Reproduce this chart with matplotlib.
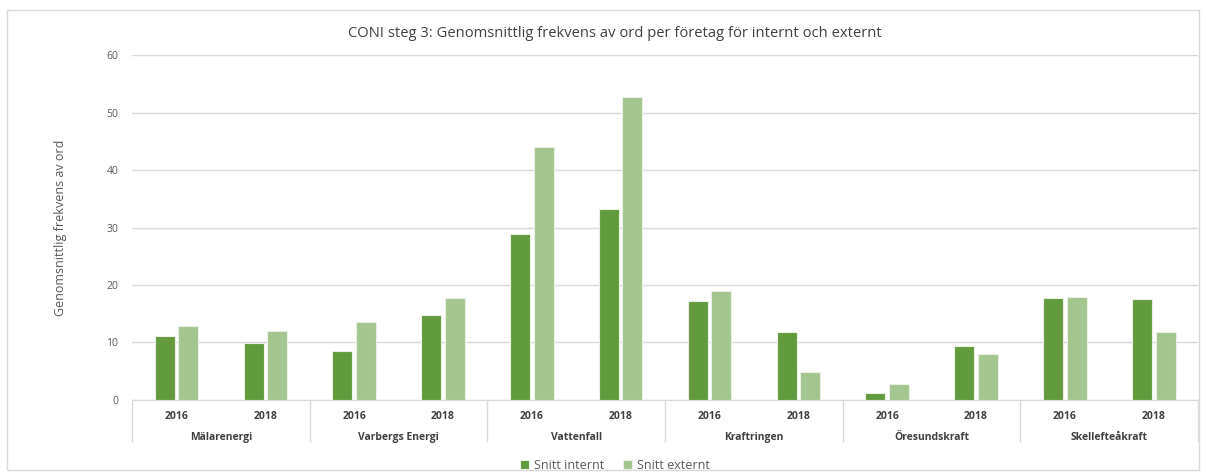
import matplotlib.pyplot as plt
import numpy as np

companies = ['Mälarenergi', 'Varbergs Energi', 'Vattenfall', 'Kraftringen',
             'Öresundskraft', 'Skellefteåkraft']
years = ['2016', '2018']
internt = [11.1, 9.9, 8.5, 14.8, 28.9, 33.2, 17.2, 11.8, 1.2, 9.4, 17.7, 17.6]
externt = [12.9, 12.0, 13.6, 17.7, 44.0, 52.7, 19.0, 4.9, 2.8, 8.0, 17.9, 11.8]

plt.rcParams['font.family'] = ['Open Sans', 'DejaVu Sans']

fig = plt.figure(figsize=(12.06, 4.75), dpi=100)
ax = fig.add_axes([0.1095, 0.158, 0.884, 0.726])

# chart border
fig.patches.append(plt.Rectangle((0.006, 0.01), 0.988, 0.968, transform=fig.transFigure,
                                 fill=False, ec='#D9D9D9', lw=1))

n = len(internt)
x = np.arange(n)
w = 0.225
ax.bar(x - w / 2 - 0.02, internt, w, color='#639A3E', ec='#EAF1E4', lw=0.8,
       label='Snitt internt', zorder=3)
ax.bar(x + w / 2 + 0.02, externt, w, color='#A4C58F', ec='#EAF1E4', lw=0.8,
       label='Snitt externt', zorder=3)

ax.set_xlim(-0.5, n - 0.5)
ax.set_ylim(0, 60)
ax.set_yticks(range(0, 61, 10))
ax.grid(axis='y', color='#D9D9D9', lw=1)
ax.set_axisbelow(True)
for s in ['top', 'left', 'right']:
    ax.spines[s].set_visible(False)
ax.spines['bottom'].set_color('#D9D9D9')
ax.tick_params(axis='y', length=0, labelsize=7.5, labelcolor='#595959', pad=10)

ax.set_xticks(x)
ax.set_xticklabels(years * len(companies), fontsize=7.5, fontweight='bold',
                   color='#404040')
ax.tick_params(axis='x', length=0, pad=8)

trans = ax.get_xaxis_transform()
for i in range(len(companies) + 1):
    xb = i * 2 - 0.5
    ax.plot([xb, xb], [0, -0.12], transform=trans, color='#D9D9D9', lw=1,
            clip_on=False)
for i, c in enumerate(companies):
    ax.text(i * 2 + 0.5, -0.11, c, transform=trans, ha='center', va='center',
            fontsize=7.5, fontweight='bold', color='#404040')

ax.set_ylabel('Genomsnittlig frekvens av ord', fontsize=9, color='#595959',
              labelpad=28)
fig.text(0.51, 0.93, 'CONI steg 3: Genomsnittlig frekvens av ord per företag för internt och externt',
         ha='center', va='center', fontsize=10.6, color='#404040')

fig.legend(loc='center', bbox_to_anchor=(0.51, 0.02), ncol=2, frameon=False,
           fontsize=9, handlelength=0.7, handleheight=0.7, handletextpad=0.4,
           columnspacing=1.5, labelcolor='#595959')

fig.savefig('out.png', dpi=100)
